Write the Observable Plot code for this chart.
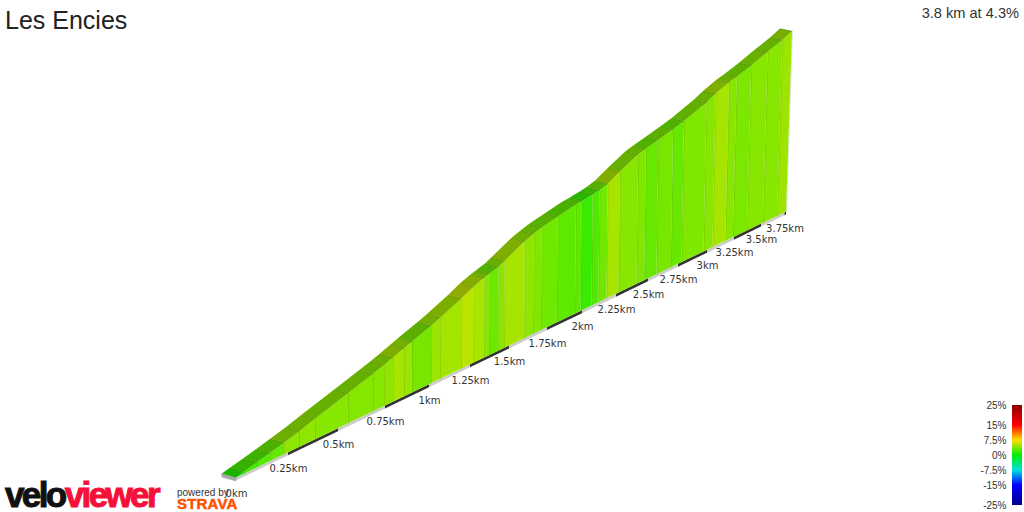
<!DOCTYPE html>
<html><head><meta charset="utf-8">
<script src="https://cdn.jsdelivr.net/npm/d3@7"></script>
<script src="https://cdn.jsdelivr.net/npm/@observablehq/plot@0.6"></script>
<style>
html,body{margin:0;padding:0;background:#fff;overflow:hidden}
#root{position:relative;width:1024px;height:512px;font-family:"Liberation Sans",Arial,sans-serif}
#root svg{position:absolute;left:0;top:0;background:transparent}
.t{position:absolute;white-space:nowrap}
</style></head><body><div id="root">
<div class="t" style="left:5px;top:6px;font-size:25px;color:#222">Les Encies</div>
<div class="t" style="right:5px;top:5px;font-size:14.6px;color:#333">3.8 km at 4.3%</div>
<div class="t" style="left:5px;top:480px;line-height:30px;font-size:35px;font-weight:bold;letter-spacing:-2.6px;-webkit-text-stroke:1px currentColor;color:#111">velo<span style="color:#f5103a">viewer</span></div>
<div class="t" style="left:177px;top:487px;font-size:10px;color:#333">powered by</div>
<div class="t" style="left:177px;top:497px;line-height:14px;font-size:15px;font-weight:bold;letter-spacing:0.2px;color:#fc5200;-webkit-text-stroke:.5px #fc5200">STRAVA</div>
</div>
<script>
// Distance along the climb at each wall seam (km), from start to finish
const seamKm = [0,.038,.101,.163,.231,.305,.385,.553,.686,.745,.795,.858,.903,1.012,1.067,1.195,1.27,1.34,1.372,1.43,1.468,1.6,1.658,1.71,1.82,1.95,1.99,2.07,2.12,2.18,2.27,2.41,2.47,2.57,2.69,2.78,2.97,3.05,3.17,3.24,3.37,3.52,3.67,3.8];
// Apparent climb height at each seam
const seamHeight = [0,2,5,8,11.5,15.5,20.5,30,37.5,41,44,48,51,57.5,61,70,76,80,81.5,84,87,97,100,102.5,105.5,109,109.5,111,112,114.5,121,129.5,131.5,134.5,138,141,149,153.5,158.5,160.5,165,171,176,180.5];
// Gradient (%) of each stretch between two seams
const stretchGrade = [1,2,2.4,3,4.2,4.2,4,3.9,3.9,4.2,4.9,4.5,3.5,4.5,4.8,5.5,5,4,3.2,4,4.9,4.2,3.8,3.3,2.8,2.8,1.65,2.35,3.3,4.9,4,3.8,3.06,3.5,3.06,3.76,4,4.9,4,3.65,4,4,4.6];
// Distance ticks
const tickKm = [0,.25,.5,.75,1,1.25,1.5,1.75,2,2.25,2.5,2.75,3,3.25,3.5,3.75];
const tickLabels = ["0km","0.25km","0.5km","0.75km","1km","1.25km","1.5km","1.75km","2km","2.25km","2.5km","2.75km","3km","3.25km","3.5km","3.75km"];
// Gradient legend
const gradeTicks = [25,15,7.5,0,-7.5,-15,-25];
const gradeColors = ["#8b0000","#ff0000","#ffe000","#00ee00","#00e0e0","#0000ff","#00008b"];

const END_KM = 3.8;
const colorScale = {type:"linear", domain:[...gradeTicks].reverse(), range:[...gradeColors].reverse()};

// View projection (oblique perspective view of the road): km -> position along the view
const run = d3.scaleLinear([...tickKm, END_KM], [236,288,338,385,429,470,509,547,582,616,648,678,707,734,761,784.5,786]);
const ground = km => 34.5 + 0.4836 * (run(km) - 236);
const lean = (km, h) => h * 0.033 * (km / END_KM) ** 2;
const backDx = km => -14 + 2 * km / END_KM, backDy = km => 4 - 1.5 * km / END_KM;

const pts = seamKm.map((km, i) => {
  const h = seamHeight[i], g = ground(km), x = run(km);
  return {km, x, g, top: g + h, topX: x + lean(km, h),
    backX: x + lean(km, h) + backDx(km), backY: g + h + backDy(km)};
});
const stretches = stretchGrade.flatMap((grade, i) => [
  {i, grade, ...pts[i]}, {i, grade, ...pts[i + 1]}
]);
const stripEnds = [...tickKm, END_KM];
const strip = tickKm.flatMap((km, i) => [
  {i, km, dark: i % 2 === 1}, {i, km: stripEnds[i + 1], dark: i % 2 === 1}
]);

const main = Plot.plot({
  width: 1024, height: 512, margin: 0, style: {background: "transparent"},
  x: {domain: [0, 1024], range: [0, 1024], axis: null},
  y: {domain: [0, 512], range: [512, 0], axis: null},
  color: colorScale,
  marks: [
    // base strip under the wall, alternating every quarter km
    Plot.areaY(strip, {x: d => run(d.km), y1: d => ground(d.km) - 3, y2: d => ground(d.km), z: "i", fill: d => d.dark ? "#333" : "#ccc"}),
    // end face of the road at the start
    Plot.area([0, 1], {
      x1: t => run(0) + backDx(0) * (1 - t), x2: t => run(0) + backDx(0) * (1 - t),
      y1: t => ground(0) + backDy(0) * (1 - t) - 3.5, y2: t => ground(0) + backDy(0) * (1 - t), fill: "#a8a8a8", stroke: "#999", strokeWidth: .5
    }),
    // side wall, one facet per stretch
    Plot.area(stretches, {x1: "x", y1: "g", x2: "topX", y2: "top", z: "i", fill: "grade"}),
    // road surface, darker shade of the same gradient colour
    Plot.area(stretches, {x1: "topX", y1: "top", x2: "backX", y2: "backY", z: "i", fill: "grade"}),
    Plot.area(stretches, {x1: "topX", y1: "top", x2: "backX", y2: "backY", z: "i", fill: "#000", fillOpacity: .24}),
    // seams
    Plot.link(pts.slice(1), {x1: "x", y1: "g", x2: "topX", y2: "top", stroke: "#5f8a00", strokeOpacity: .22, strokeWidth: 1}),
    Plot.link(pts.slice(1), {x1: "topX", y1: "top", x2: "backX", y2: "backY", stroke: "#3f6f00", strokeOpacity: .3, strokeWidth: 1}),
    // distance labels
    Plot.text(tickKm, {x: d => run(d), y: d => ground(d), dy: 16, text: (d, i) => tickLabels[i], fontFamily: "DejaVu Sans", fontSize: 10, fill: "#333", textAnchor: "middle"})
  ]
});
document.getElementById("root").appendChild(main);

const gradeSteps = d3.range(-25, 25, .5);
const legend = Plot.plot({
  width: 64, height: 117, margin: 0, style: {background: "transparent"},
  x: {domain: [0, 1], range: [52, 62], axis: null},
  y: {domain: [-25, 25], range: [110, 10], axis: null},
  color: colorScale,
  marks: [
    Plot.rect(gradeSteps, {x1: 0, x2: 1, y1: d => d, y2: d => d + .5, fill: d => d + .25}),
    Plot.text(gradeTicks, {x: 0, y: d => d, dx: -6, text: d => d + "%", textAnchor: "end", fontFamily: "Liberation Sans", fontSize: 10, fill: "#333"})
  ]
});
legend.style.left = "960px"; legend.style.top = "395px";
document.getElementById("root").appendChild(legend);
</script></body></html>
